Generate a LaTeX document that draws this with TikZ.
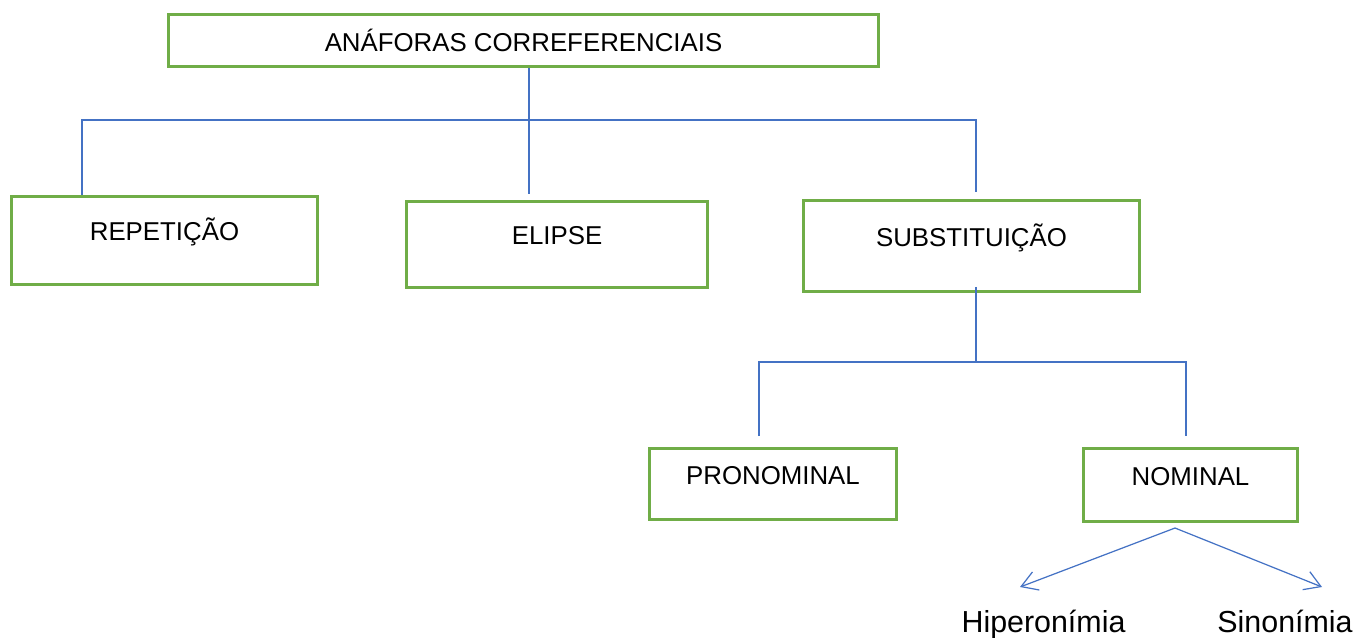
\documentclass[tikz,border=0pt]{standalone}
\usepackage{fontspec}
\setmainfont{Liberation Sans}
\usetikzlibrary{arrows.meta,positioning}
\definecolor{boxgreen}{RGB}{112,173,71}
\definecolor{linkblue}{RGB}{68,114,196}

\begin{document}
\begin{tikzpicture}[
    x=0.02cm, y=-0.02cm,
    box/.style 2 args={draw=boxgreen, line width=1.7pt, inner sep=0pt, text height=#1, text depth=#2, font=\fontsize{14.7}{17}\selectfont},
    link/.style={linkblue, line width=0.7pt},
    arrow/.style={-{Straight Barb[length=9pt,width=11pt]}, linkblue, line width=0.7pt},
    word/.style={anchor=base, font=\fontsize{17.3}{20}\selectfont}
]
    \useasboundingbox (0,0) rectangle (1361,637);

    % Nodes - top
    \node[box={0.73cm}{0.31cm}, minimum width=14.2cm] (top) at (523.5,40.5) {ANÁFORAS CORREFERENCIAIS};

    % Nodes - first level
    \node[box={0.88cm}{0.88cm}, minimum width=6.12cm] (rep) at (164.5,240.5) {REPETIÇÃO};
    \node[box={0.86cm}{0.86cm}, minimum width=6.02cm] (eli) at (557,244.5) {ELIPSE};
    \node[box={0.91cm}{0.91cm}, minimum width=6.72cm] (sub) at (971.5,246) {SUBSTITUIÇÃO};

    % Nodes - second level
    \node[box={0.71cm}{0.71cm}, minimum width=4.94cm] (pro) at (773,484) {PRONOMINAL};
    \node[box={0.73cm}{0.73cm}, minimum width=4.28cm] (nom) at (1190.5,485) {NOMINAL};

    % Nodes - words
    \node[word] (hip) at (1043.5,632) {Hiperonímia};
    \node[word] (sin) at (1285,632) {Sinonímia};

    % Joints
    \coordinate (hl) at (82,120);
    \coordinate (hr) at (976,120);
    \coordinate (ee) at (529,194);
    \coordinate (se) at (976,192);
    \coordinate (pl) at (759,362);
    \coordinate (pr) at (1186,362);
    \coordinate (pe) at (759,436);
    \coordinate (ne) at (1186,436);
    \coordinate (fork) at (1175,528);
    \coordinate (hipend) at (1020,587);
    \coordinate (sinend) at (1322,587);

    % Lines - first level
    \draw[link] (top.south -| ee) -- (ee);
    \draw[link] (rep.north -| hl) -- (hl) -- (hr) -- (se);

    % Lines - second level
    \draw[link] ([yshift=0.12cm]sub.south -| hr) -- (hr |- pl);
    \draw[link] (pe) -- (pl) -- (pr) -- (ne);

    % Arrows
    \draw[arrow] (fork) -- (hipend);
    \draw[arrow] (fork) -- (sinend);
\end{tikzpicture}
\end{document}
